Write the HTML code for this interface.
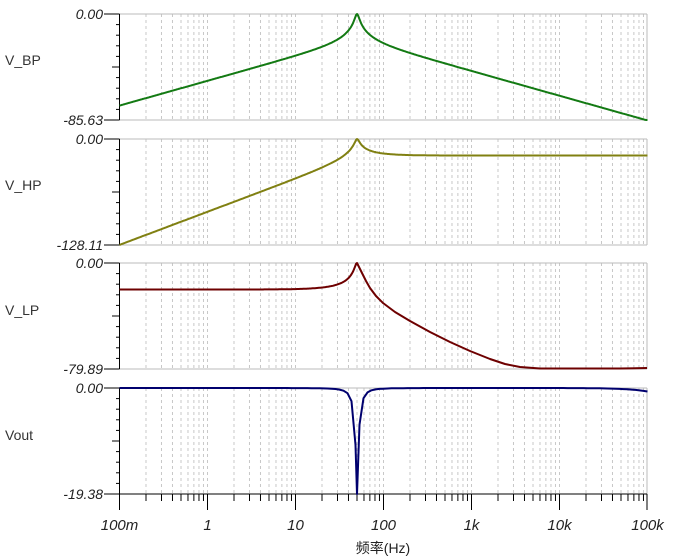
<!DOCTYPE html>
<html><head><meta charset="utf-8"><style>
html,body{margin:0;padding:0;background:#fff;}
svg{display:block;}
text{font-family:"Liberation Sans","Noto Sans CJK SC",sans-serif;}
</style></head><body>
<svg id="s" width="676" height="560" xmlns="http://www.w3.org/2000/svg">
<rect width="676" height="560" fill="#fff"/>
<g id="g"></g>
<text x="5" y="65" font-size="14" fill="#333">V_BP</text>
<text x="5" y="190" font-size="14" fill="#333">V_HP</text>
<text x="5" y="315" font-size="14" fill="#333">V_LP</text>
<text x="5" y="440" font-size="14" fill="#333">Vout</text>
<text x="383" y="553" font-size="14" fill="#222" text-anchor="middle">频率(Hz)</text>
</svg>
<script>
var NS="http://www.w3.org/2000/svg",g=document.getElementById("g");
function el(t,a,tx){var e=document.createElementNS(NS,t);for(var k in a)e.setAttribute(k,a[k]);if(tx!=null)e.textContent=tx;g.appendChild(e);return e;}
var L=119.5,R=647,D=88;
function X(f){return L+(Math.log10(f)+1)*D;}
var panels=[{t:14,r:85.63,lab:"-85.63"},{t:139,r:128.11,lab:"-128.11"},{t:263,r:79.89,lab:"-79.89"},{t:388,r:19.38,lab:"-19.38"}];
var H=106;
panels.forEach(function(p,i){
 var b=p.t+H;
 for(var d=-1;d<5;d++)for(var m=1;m<10;m++){var f=m*Math.pow(10,d);if(f<=0.1)continue;var x=X(f);if(x>R)continue;
  el("line",{x1:x,y1:p.t,x2:x,y2:b,stroke:"#c8c8c8","stroke-dasharray":"3,3","stroke-width":1});}
 el("line",{x1:L,y1:p.t,x2:R,y2:p.t,stroke:"#bbb"});
 el("line",{x1:R,y1:p.t,x2:R,y2:b,stroke:"#bbb"});
 el("line",{x1:L,y1:b,x2:R,y2:b,stroke:i==3?"#000":"#bbb"});
 el("line",{x1:L,y1:p.t,x2:L,y2:b,stroke:"#000"});
 for(var k=0;k<=10;k++){var y=p.t+k*H/10;var x1=(k==0||k==10)?104:(k==5?112:116);el("line",{x1:x1,y1:y,x2:L,y2:y,stroke:"#000"});}
 el("text",{x:103,y:p.t+5,"font-size":14,"font-style":"italic","text-anchor":"end",fill:"#222"},"0.00");
 el("text",{x:103,y:b+5,"font-size":14,"font-style":"italic","text-anchor":"end",fill:"#222"},p.lab);
});
var labs=["100m","1","10","100","1k","10k","100k"];
for(var d=-1;d<5;d++)for(var m=1;m<10;m++){var f=m*Math.pow(10,d);var x=X(f);if(x>R+0.5)continue;el("line",{x1:x,y1:494,x2:x,y2:m==1?510:501,stroke:"#000"});}
el("line",{x1:R,y1:494,x2:R,y2:510,stroke:"#000"});
labs.forEach(function(s,i){el("text",{x:L+i*D,y:530,"font-size":15,"font-style":"italic","text-anchor":"middle",fill:"#222"},s);});
var Q=10,fs=[];for(var i=0;i<=500;i++)fs.push(Math.pow(10,-1+6*i/500));fs.push(50);fs.sort(function(a,b){return a-b;});
function den(w,q){q=q||Q;return Math.sqrt((1-w*w)*(1-w*w)+(w/q)*(w/q));}
function db(v){return 20*Math.log10(v);}
function Y(p,v){v=Math.max(-p.r,Math.min(0,v));return p.t-v/p.r*H;}
function poly(pts,c){el("polyline",{points:pts.join(" "),fill:"none",stroke:c,"stroke-width":2,"stroke-linejoin":"round"});}
var bp=[],hp=[],lp=[],vo=[];
fs.forEach(function(f){var w=f/50,dn=den(w),x=X(f).toFixed(1);
 bp.push(x+","+Y(panels[0],db((w/Q)/dn)).toFixed(1));
 hp.push(x+","+Y(panels[1],db(w*w/dn/Q)).toFixed(1));
 if(f<=50)lp.push(x+","+Y(panels[2],db(1/dn/Q)).toFixed(1));
});
var fv=[];for(var i=0;i<=132;i++)fv.push(Math.pow(10,-1+6*i/132));fv.push(50);fv.sort(function(a,b){return a-b;});
fv.forEach(function(f){var w=f/50,x=X(f).toFixed(1);
 vo.push(x+","+Y(panels[3],db(Math.abs(1-w*w)/den(w,4)/Math.sqrt(1+Math.pow(f/250000,2)))).toFixed(1));});
lp=lp.concat(["362,273","366,281","370,288","376,296","383,303","395,312","410,321","430,332","450,342","470,351","490,359","505,364","520,367","540,368.5","560,368.5","620,368.5","647,368"]);
poly(bp,"#137a13");poly(hp,"#808012");poly(lp,"#6e0000");poly(vo,"#00006e");
</script>
</body></html>
